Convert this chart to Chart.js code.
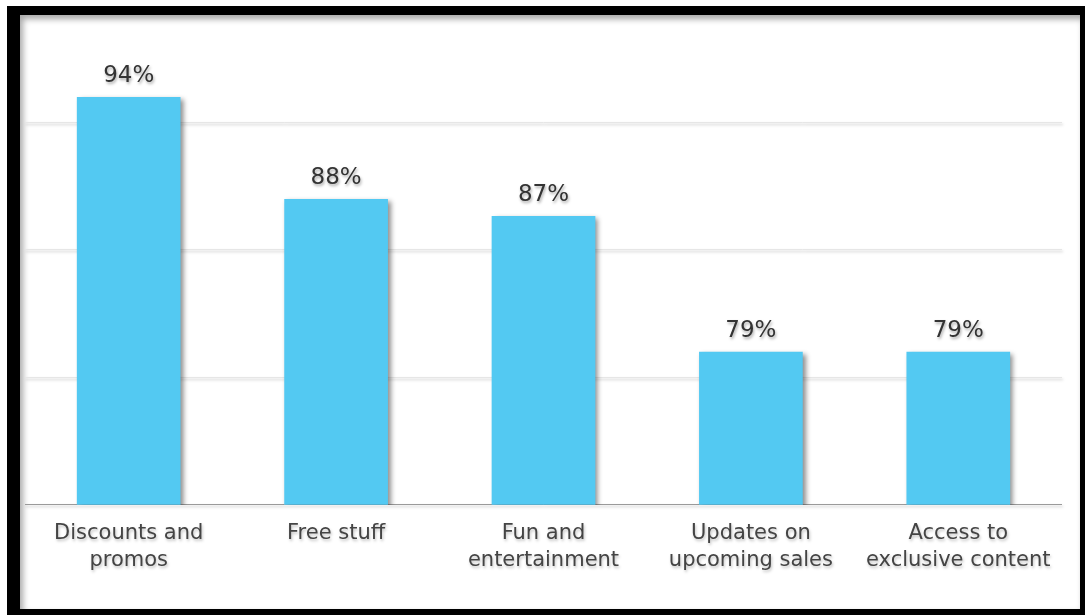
<!DOCTYPE html>
<html>
<head>
<meta charset="utf-8">
<script src="https://cdn.jsdelivr.net/npm/chart.js@4"></script>
<style>
  html, body { margin: 0; padding: 0; background: #fff; width: 1085px; height: 615px; overflow: hidden; }
  #frame { position: absolute; left: 7px; top: 6px; width: 1060px; height: 594px;
    border-style: solid; border-color: #000; border-width: 9px 5px 8px 13px;
    box-shadow: inset 3px 4px 6px rgba(0,0,0,0.35); background: #fff; }
  #wrap { position: absolute; left: 0; top: 0; width: 1085px; height: 615px; }
</style>
</head>
<body>
<div id="frame"></div>
<div id="wrap"><canvas id="c" width="1085" height="615"></canvas></div>
<script>
const categories = [
  ["Discounts and", "promos"],
  ["Free stuff"],
  ["Fun and", "entertainment"],
  ["Updates on", "upcoming sales"],
  ["Access to", "exclusive content"]
];
const values = [94, 88, 87, 79, 79];
const valueLabels = ["94%", "88%", "87%", "79%", "79%"];
const axisMin = 70;
const axisMax = 96;
const gridValues = [70, 77.5, 85, 92.5];

const FONT = "'DejaVu Sans', sans-serif";

const shadowPlugin = {
  id: 'softShadows',
  beforeDraw(chart) {
    const ctx = chart.ctx;
    ctx.save();
    ctx.shadowColor = 'rgba(0,0,0,0.25)';
    ctx.shadowBlur = 3;
    ctx.shadowOffsetX = 1;
    ctx.shadowOffsetY = 2;
  },
  beforeDatasetsDraw(chart) {
    chart.ctx.restore();
  },
  beforeDatasetDraw(chart) {
    const ctx = chart.ctx;
    ctx.save();
    ctx.shadowColor = 'rgba(0,0,0,0.45)';
    ctx.shadowBlur = 5;
    ctx.shadowOffsetX = 3;
    ctx.shadowOffsetY = 2;
  },
  afterDatasetDraw(chart) {
    chart.ctx.restore();
  }
};

const valueLabelPlugin = {
  id: 'valueLabels',
  afterDatasetsDraw(chart) {
    const ctx = chart.ctx;
    const meta = chart.getDatasetMeta(0);
    ctx.save();
    ctx.font = "23px " + FONT;
    ctx.fillStyle = '#333';
    ctx.textAlign = 'center';
    ctx.textBaseline = 'alphabetic';
    ctx.shadowColor = 'rgba(0,0,0,0.35)';
    ctx.shadowBlur = 3;
    ctx.shadowOffsetX = 1;
    ctx.shadowOffsetY = 2;
    meta.data.forEach((bar, i) => {
      ctx.fillText(valueLabels[i], bar.x, bar.y - 15);
    });
    ctx.restore();
  }
};

new Chart(document.getElementById('c'), {
  type: 'bar',
  data: {
    labels: categories,
    datasets: [{
      data: values,
      backgroundColor: '#53C9F2',
      borderWidth: 0,
      barPercentage: 0.5,
      categoryPercentage: 1.0
    }]
  },
  options: {
    responsive: false,
    animation: false,
    devicePixelRatio: 1,
    layout: { padding: { left: 25, right: 23, top: 63, bottom: 33 } },
    plugins: {
      legend: { display: false },
      tooltip: { enabled: false }
    },
    scales: {
      x: {
        grid: { display: false },
        border: { display: false },
        ticks: {
          color: '#444',
          font: { family: FONT, size: 21, lineHeight: 1.27 },
          padding: 8,
          maxRotation: 0,
          autoSkip: false
        }
      },
      y: {
        min: axisMin,
        max: axisMax,
        border: { display: false },
        ticks: { display: false },
        afterBuildTicks: (scale) => {
          scale.ticks = gridValues.map(v => ({ value: v }));
        },
        grid: {
          drawTicks: false,
          lineWidth: 1,
          color: (c) => {
            const v = c.tick ? c.tick.value : null;
            if (v === axisMin) return '#9a9a9a';
            return '#e6e6e6';
          }
        }
      }
    }
  },
  plugins: [shadowPlugin, valueLabelPlugin]
});
</script>
</body>
</html>
